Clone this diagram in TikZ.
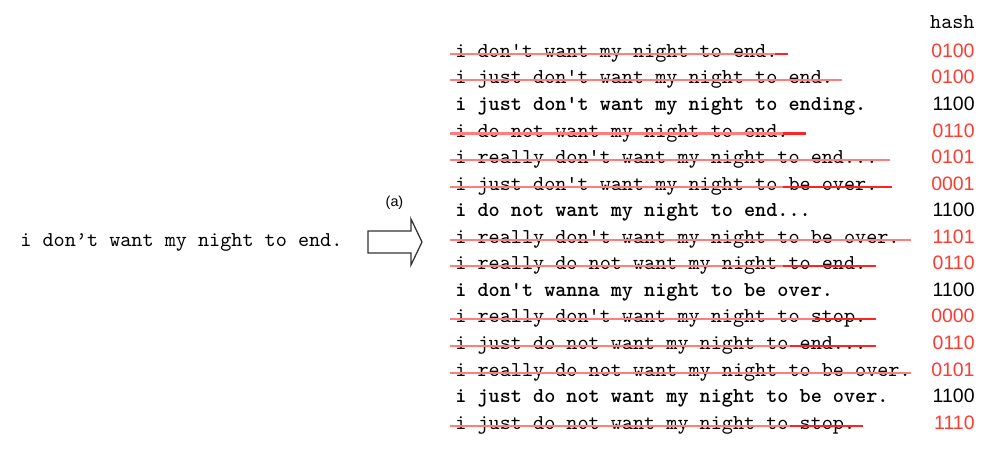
\documentclass[tikz,border=0pt]{standalone}
\usepackage{fontspec}
\newfontfamily\hvfont{Liberation Sans}
\definecolor{hred}{RGB}{250,60,50}
\definecolor{lightstrike}{RGB}{255,125,125}
\definecolor{darkstrike}{RGB}{255,35,35}
\tikzset{
  sent/.style={anchor=base west, inner sep=0pt, font=\ttfamily\fontsize{10}{12}\selectfont},
  keep/.style={anchor=base west, inner sep=0pt, font=\ttfamily\bfseries\fontsize{10}{12}\selectfont},
  hashnum/.style={anchor=base east, inner sep=0pt, font=\hvfont\fontsize{9.2}{11}\selectfont},
  strike/.style={draw=lightstrike, line width=0.95pt},
  strikedark/.style={draw=darkstrike, line width=0.95pt},
  blockarrow/.style={draw=black!80, line width=0.6pt, line join=miter},
}
\begin{document}
\begin{tikzpicture}[x=0.4728pt, y=-0.4728pt]
\useasboundingbox (0,0) rectangle (998,460);
% source sentence
\node[sent] (src) at (20,247) {i don’t want my night to end.};
% arrow and label
\draw[blockarrow] (368,231) -- (411,231) -- (411,219) -- (422,242) -- (411,265) -- (411,253) -- (368,253) -- cycle;
\node[anchor=base, inner sep=0pt, font=\hvfont\fontsize{6.8}{8}\selectfont] (lab) at (394.5,207) {(a)};
% header
\node[anchor=base east, inner sep=0pt, font=\ttfamily\fontsize{10}{12}\selectfont] (hdr) at (975,28.5) {hash};
% struck candidates
\foreach \r/\t/\h/\e/\d in {
  1/{i don\textquotesingle t want my night to end.}/0100/788/775,
  2/{i just don\textquotesingle t want my night to end.}/0100/842/0,
  4/{i do not want my night to end.}/0110/806/783,
  5/{i really don\textquotesingle t want my night to end...}/0101/890/0,
  6/{i just don\textquotesingle t want my night to be over.}/0001/892/783,
  8/{i really don\textquotesingle t want my night to be over.}/1101/911/0,
  9/{i really do not want my night to end.}/0110/876/783,
  11/{i really don\textquotesingle t want my night to stop.}/0000/876/815,
  12/{i just do not want my night to end...}/0110/876/790,
  13/{i really do not want my night to be over.}/0101/911/0,
  15/{i just do not want my night to stop.}/1110/863/790}{
  \pgfmathsetmacro\yy{57.3+26.57*(\r-1)}
  \node[sent] (s\r) at (455,\yy) {\t};
  \node[hashnum, text=hred] (h\r) at (975,\yy) {\h};
  \draw[strike] (450,\yy-3.5) -- (\e,\yy-3.5);
  \ifnum\d>0
    \draw[strikedark] (\d,\yy-3.5) -- (\e,\yy-3.5);
  \fi
}
% kept candidates
\foreach \r/\t in {
  3/{i just don\textquotesingle t want my night to ending.},
  7/{i do not want my night to end...},
  10/{i don\textquotesingle t wanna my night to be over.},
  14/{i just do not want my night to be over.}}{
  \pgfmathsetmacro\yy{57.3+26.57*(\r-1)}
  \node[keep] (s\r) at (455,\yy) {\t};
  \node[hashnum, text=black] (h\r) at (975,\yy) {1100};
}
\end{tikzpicture}
\end{document}
